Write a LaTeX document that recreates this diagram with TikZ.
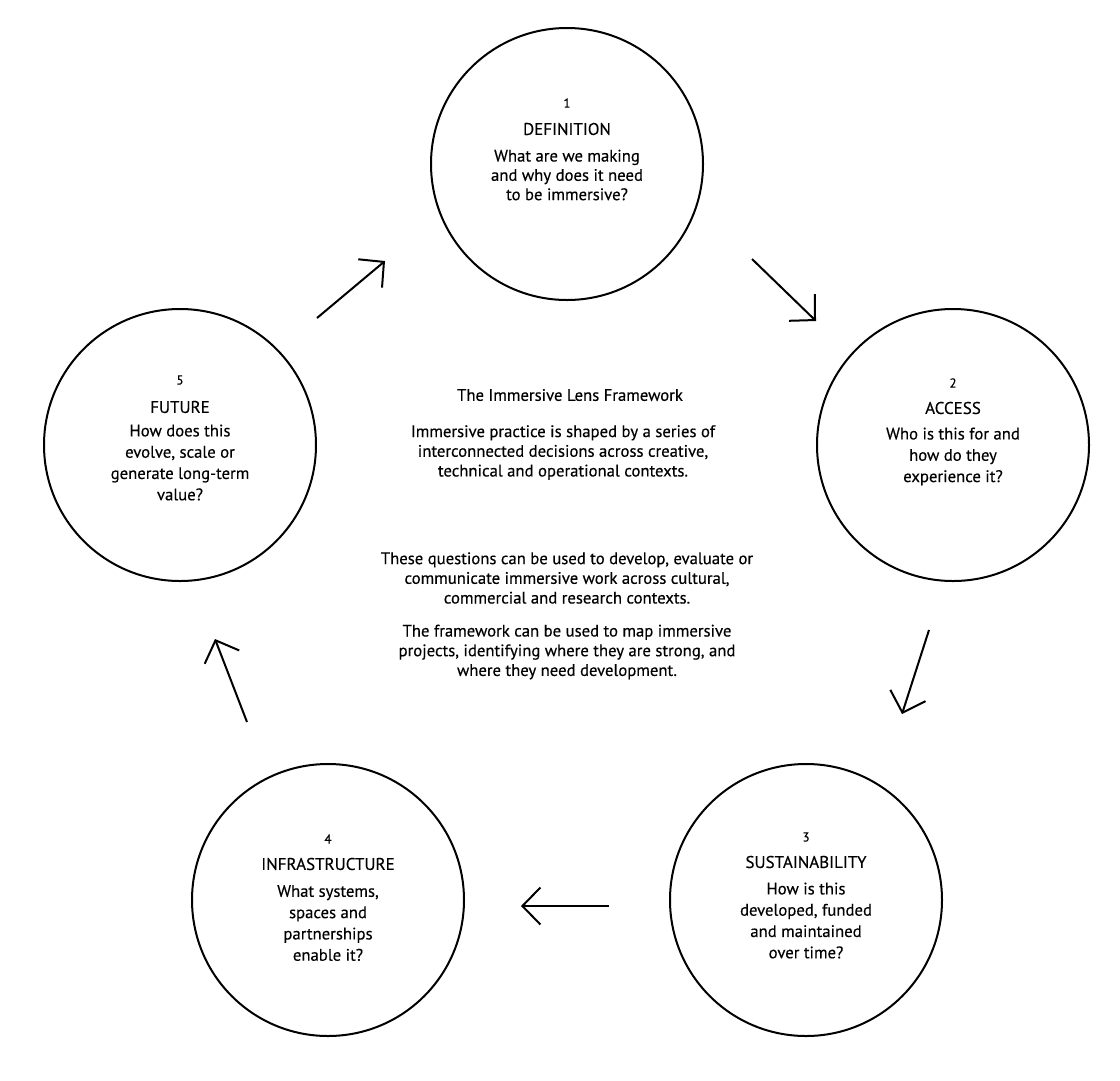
\documentclass[tikz,border=0pt]{standalone}
\usepackage{fontspec}
\setmainfont{PT Sans}[FakeBold=0.3]
\usetikzlibrary{arrows.meta}
\tikzset{
  ring/.style={circle, draw=black, line width=2pt, minimum size=272pt, inner sep=0pt},
  numtxt/.style={font=\fontsize{13}{15}\selectfont, inner sep=0pt},
  headtxt/.style={font=\fontsize{17}{20}\selectfont, inner sep=0pt},
  bodytxt/.style={font=\fontsize{16.7}{21.3}\selectfont, align=center, inner sep=0pt},
  midtxt/.style={font=\fontsize{16.7}{19.7}\selectfont, align=center, inner sep=0pt},
  flow/.style={line width=2pt, -{Straight Barb[length=18pt, width=37pt, line width=2pt]}}
}
\begin{document}
\begin{tikzpicture}[x=1pt, y=-1pt]
\useasboundingbox (0,0) rectangle (1120,1080);
\fill[white] (0,0) rectangle (1120,1080);

% circles
\node[ring] (c1) at (567,164) {};
\node[ring] (c2) at (953,445) {};
\node[ring] (c3) at (806,900) {};
\node[ring] (c4) at (328,900) {};
\node[ring] (c5) at (180,445) {};

% circle 1
\node[numtxt] (n1) at (567,103) {1};
\node[headtxt] (h1) at (567,129) {DEFINITION};
\node[bodytxt, font=\fontsize{16.7}{19.3}\selectfont] (b1) at (567,175) {What are we making\\and why does it need\\to be immersive?};

% circle 2
\node[numtxt] (n2) at (953,383) {2};
\node[headtxt] (h2) at (953,408) {ACCESS};
\node[bodytxt] (b2) at (953,456.5) {Who is this for and\\how do they\\experience it?};

% circle 3
\node[numtxt] (n3) at (806,837) {3};
\node[headtxt] (h3) at (806,862) {SUSTAINABILITY};
\node[bodytxt] (b3) at (806,920.5) {How is this\\developed, funded\\and maintained\\over time?};

% circle 4
\node[numtxt] (n4) at (328,839) {4};
\node[headtxt] (h4) at (328,864) {INFRASTRUCTURE};
\node[bodytxt] (b4) at (328,923) {What systems,\\spaces and\\partnerships\\enable it?};

% circle 5
\node[numtxt] (n5) at (180,380) {5};
\node[headtxt] (h5) at (180,407) {FUTURE};
\node[bodytxt] (b5) at (180,462.5) {How does this\\evolve, scale or\\generate long-term\\value?};

% centre text
\node[midtxt] (title) at (570,395) {The Immersive Lens Framework};
\node[midtxt] (intro) at (563,452.5) {Immersive practice is shaped by a series of\\interconnected decisions across creative,\\technical and operational contexts.};
\node[midtxt] (use) at (567,578) {These questions can be used to develop, evaluate or\\communicate immersive work across cultural,\\commercial and research contexts.};
\node[midtxt] (map) at (567,652) {The framework can be used to map immersive\\projects, identifying where they are strong, and\\where they need development.};

% arrow end points
\coordinate (a1s) at (317,318); \coordinate (a1e) at (385,261);
\coordinate (a2s) at (752,259); \coordinate (a2e) at (816,321);
\coordinate (a3s) at (929,630); \coordinate (a3e) at (902,714);
\coordinate (a4s) at (609,906); \coordinate (a4e) at (521,906);
\coordinate (a5s) at (247,722); \coordinate (a5e) at (215,639);

\draw[flow] (a1s) -- (a1e);
\draw[flow] (a2s) -- (a2e);
\draw[flow] (a3s) -- (a3e);
\draw[flow] (a4s) -- (a4e);
\draw[flow] (a5s) -- (a5e);
\end{tikzpicture}
\end{document}
